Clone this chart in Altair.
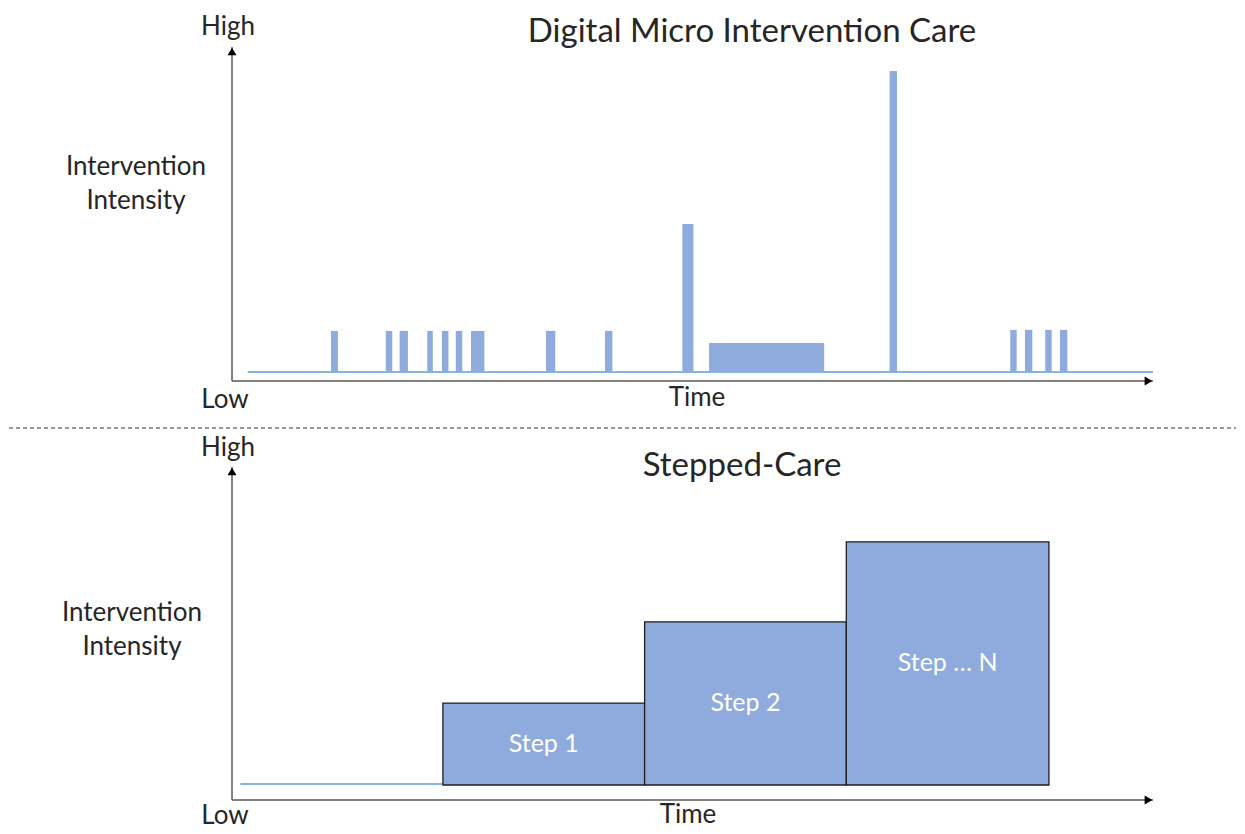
import altair as alt
import pandas as pd

# ---------------- Data (time 0-100 along axis, intensity 0-100 up the axis) ----------------
# Top panel: Digital Micro Intervention Care
micro_start = [10.75, 16.7, 18.2, 21.2, 22.8, 24.3, 25.95, 34.1, 40.5, 48.9, 51.8, 71.4, 84.5, 86.1, 88.3, 89.9]
micro_end = [11.5, 17.4, 19.1, 21.8, 23.5, 25.0, 27.4, 35.1, 41.3, 50.1, 64.3, 72.2, 85.2, 86.9, 89.0, 90.7]
micro_intensity = [15.0, 15.0, 15.0, 15.0, 15.0, 15.0, 15.0, 15.0, 15.0, 47.0, 11.4, 92.8, 15.3, 15.3, 15.3, 15.3]
micro_base = 2.7
micro_line = [1.7, 100.0]

# Bottom panel: Stepped-Care
step_labels = ["Step 1", "Step 2", "Step … N"]
step_start = [22.9, 44.8, 66.7]
step_end = [44.8, 66.7, 88.7]
step_top = [29.1, 53.5, 77.5]
step_base = 4.5
step_line = [0.9, 22.9]

FONT = "Lato"
TXT = "#262626"
BAR = "#8FAADC"
LINE = "#5B9BD5"
AXIS = "#595959"

W = 921
H1 = 334
H2 = 333

xs = alt.Scale(domain=[0, 100], nice=False, zero=False)
ys = alt.Scale(domain=[0, 100], nice=False, zero=False)


def axes_layers():
    ax = pd.DataFrame({"x": [0.0], "x2": [100.0], "y": [0.0], "y2": [100.0]})
    vline = alt.Chart(ax).mark_rule(color=AXIS, strokeWidth=1.5).encode(
        x=alt.X("x:Q", scale=xs, axis=None), y=alt.Y("y:Q", scale=ys, axis=None), y2="y2:Q")
    hline = alt.Chart(ax).mark_rule(color=AXIS, strokeWidth=1.5).encode(
        x=alt.X("x:Q", scale=xs, axis=None), x2="x2:Q", y=alt.Y("y:Q", scale=ys, axis=None))
    up = alt.Chart(ax).mark_point(shape="triangle-up", filled=True, size=80, color="black",
                                  opacity=1, yOffset=4.5).encode(
        x=alt.X("x:Q", scale=xs, axis=None), y=alt.Y("y2:Q", scale=ys, axis=None))
    right = alt.Chart(ax).mark_point(shape="triangle-right", filled=True, size=80, color="black",
                                     opacity=1, xOffset=-4.5).encode(
        x=alt.X("x2:Q", scale=xs, axis=None), y=alt.Y("y:Q", scale=ys, axis=None))
    return [vline, hline, up, right]


def label(text, x, y, size=26, **kw):
    return alt.Chart(pd.DataFrame({"a": [0]})).mark_text(
        font=FONT, fontSize=size, color=TXT, align="center", baseline="middle", **kw
    ).encode(x=alt.value(x), y=alt.value(y), text=alt.value(text))


# ---------------- Top panel ----------------
micro_df = pd.DataFrame({"start": micro_start, "end": micro_end,
                         "intensity": micro_intensity, "base": [micro_base] * len(micro_start)})
micro_line_df = pd.DataFrame({"x": [micro_line[0]], "x2": [micro_line[1]], "y": [micro_base]})

anchor = alt.Chart(pd.DataFrame({"a": [0]})).mark_rect(opacity=0).encode(
    x=alt.value(-224), x2=alt.value(1005), y=alt.value(-39), y2=alt.value(779))

top_line = alt.Chart(micro_line_df).mark_rule(color=LINE, strokeWidth=1.5).encode(
    x=alt.X("x:Q", scale=xs, axis=None), x2="x2:Q", y=alt.Y("y:Q", scale=ys, axis=None))
top_bars = alt.Chart(micro_df).mark_rect(color=BAR).encode(
    x=alt.X("start:Q", scale=xs, axis=None), x2="end:Q",
    y=alt.Y("base:Q", scale=ys, axis=None), y2="intensity:Q")

separator = alt.Chart(pd.DataFrame({"a": [0]})).mark_rule(
    color="#333333", strokeWidth=1, strokeDash=[4, 3]).encode(
    x=alt.value(-223), x2=alt.value(1004), y=alt.value(381))

top = alt.layer(
    anchor, top_line, top_bars, *axes_layers(), separator,
    label("High", -4, -20),
    label("Low", -7, 353),
    label(["Intervention", "Intensity"], -96, 120, lineHeight=34),
    label("Time", 465, 351),
    label("Digital Micro Intervention Care", 520, -15, size=33),
).properties(width=W, height=H1)

# ---------------- Bottom panel ----------------
step_df = pd.DataFrame({"label": step_labels, "start": step_start, "end": step_end,
                        "top": step_top, "base": [step_base] * len(step_labels)})
step_line_df = pd.DataFrame({"x": [step_line[0]], "x2": [step_line[1]], "y": [step_base + 0.3]})

bot_line = alt.Chart(step_line_df).mark_rule(color=LINE, strokeWidth=1.5).encode(
    x=alt.X("x:Q", scale=xs, axis=None), x2="x2:Q", y=alt.Y("y:Q", scale=ys, axis=None))
steps = alt.Chart(step_df).mark_rect(color=BAR, stroke="#1f1f1f", strokeWidth=1.3).encode(
    x=alt.X("start:Q", scale=xs, axis=None), x2="end:Q",
    y=alt.Y("base:Q", scale=ys, axis=None), y2="top:Q")
step_text = alt.Chart(step_df).transform_calculate(
    cx="(datum.start + datum.end) / 2", cy="(datum.base + datum.top) / 2"
).mark_text(font=FONT, fontSize=25, color="white", align="center", baseline="middle").encode(
    x=alt.X("cx:Q", scale=xs, axis=None), y=alt.Y("cy:Q", scale=ys, axis=None), text="label:N")

bottom = alt.layer(
    bot_line, steps, step_text, *axes_layers(),
    label("High", -4, -19),
    label("Low", -7, 349),
    label(["Intervention", "Intensity"], -100, 146, lineHeight=34),
    label("Time", 456, 348),
    label("Stepped-Care", 510, -1, size=33),
).properties(width=W, height=H2)

chart = alt.vconcat(top, bottom, spacing=86, bounds="flush").properties(
    padding=0
).configure_view(stroke=None)

chart.save("out.html", embed_options={"renderer": "svg", "actions": False})
